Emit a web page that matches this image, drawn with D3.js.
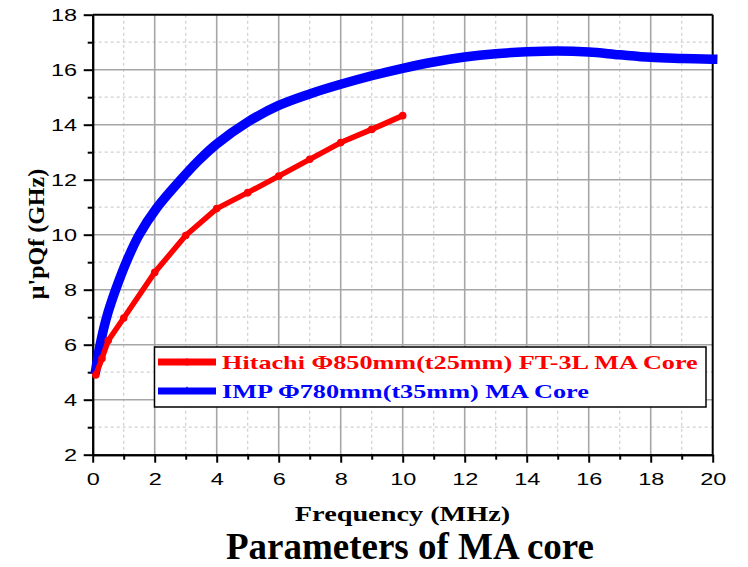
<!DOCTYPE html>
<html>
<head>
<meta charset="utf-8">
<script src="https://cdn.jsdelivr.net/npm/d3@7"></script>
<style>
  html, body { margin: 0; padding: 0; background: #fff; }
  svg { display: block; }
</style>
</head>
<body>
<svg id="chart" width="748" height="567"></svg>
<script>
// Hitachi FT-3L core: frequency (MHz) vs μ'pQf (GHz)
const freqHitachi = [0.1, 0.3, 0.5, 1, 2, 3, 4, 5, 6, 7, 8, 9, 10];
const qfHitachi   = [4.9, 5.5, 6.15, 6.97, 8.63, 9.97, 10.95, 11.53, 12.13, 12.74, 13.35, 13.83, 14.33];

// IMP core: frequency (MHz) vs μ'pQf (GHz)
const freqImp = [0.1, 0.24, 0.45, 0.74, 1.1, 1.5, 2.05, 2.8, 3.4, 4, 5, 6, 7, 8, 9, 10, 11, 12, 13, 14, 15, 16, 17, 18, 19, 20];
const qfImp   = [5.1, 6.0, 7.0, 8.0, 9.05, 10.0, 10.95, 11.95, 12.68, 13.3, 14.1, 14.7, 15.12, 15.47, 15.78, 16.05, 16.28, 16.46, 16.58, 16.65, 16.68, 16.64, 16.54, 16.45, 16.41, 16.38];

const seriesNames = ["Hitachi Φ850mm(t25mm) FT-3L MA Core", "IMP Φ780mm(t35mm) MA Core"];
const seriesColors = ["#ff0000", "#0000ff"];

const xMajorTicks = [0, 2, 4, 6, 8, 10, 12, 14, 16, 18, 20];
const xMinorTicks = [1, 3, 5, 7, 9, 11, 13, 15, 17, 19];
const yMajorTicks = [2, 4, 6, 8, 10, 12, 14, 16, 18];
const yMinorTicks = [3, 5, 7, 9, 11, 13, 15, 17];

const xTitle = "Frequency (MHz)";
const yTitle = "μ'pQf (GHz)";
const caption = "Parameters of MA core";

const SX = 1.38; // horizontal stretch of the chart lettering
const svg = d3.select("#chart");
const plotL = 92.7, plotR = 712.7, plotT = 14.7, plotB = 454.7;

const x = d3.scaleLinear().domain([0, 20]).range([plotL, plotR]);
const y = d3.scaleLinear().domain([2, 18]).range([plotB, plotT]);

// grid
const grid = svg.append("g");
grid.selectAll(".gxm").data(xMinorTicks).join("line")
  .attr("x1", d => x(d)).attr("x2", d => x(d)).attr("y1", plotT).attr("y2", plotB)
  .attr("stroke", "#cfcfcf").attr("stroke-width", 1.2).attr("stroke-dasharray", "3,3");
grid.selectAll(".gym").data(yMinorTicks).join("line")
  .attr("y1", d => y(d)).attr("y2", d => y(d)).attr("x1", plotL).attr("x2", plotR)
  .attr("stroke", "#cfcfcf").attr("stroke-width", 1.2).attr("stroke-dasharray", "3,3");
grid.selectAll(".gxM").data(xMajorTicks.slice(1, -1)).join("line")
  .attr("x1", d => x(d)).attr("x2", d => x(d)).attr("y1", plotT).attr("y2", plotB)
  .attr("stroke", "#a6a6a6").attr("stroke-width", 1.6);
grid.selectAll(".gyM").data(yMajorTicks.slice(1, -1)).join("line")
  .attr("y1", d => y(d)).attr("y2", d => y(d)).attr("x1", plotL).attr("x2", plotR)
  .attr("stroke", "#a6a6a6").attr("stroke-width", 1.6);

// frame top and right
svg.append("line").attr("x1", plotL).attr("x2", plotR).attr("y1", plotT).attr("y2", plotT)
  .attr("stroke", "#000").attr("stroke-width", 2);
svg.append("line").attr("x1", plotR).attr("x2", plotR).attr("y1", plotT).attr("y2", plotB)
  .attr("stroke", "#000").attr("stroke-width", 2);

// axes
function styleAxis(g) {
  g.select(".domain").attr("stroke", "#000").attr("stroke-width", 2);
  g.selectAll(".tick line").attr("stroke", "#000").attr("stroke-width", 2);
}
const xAxisMinor = svg.append("g").attr("transform", `translate(0,${plotB})`)
  .call(d3.axisBottom(x).tickValues(xMinorTicks).tickSize(5).tickSizeOuter(0).tickFormat(""));
styleAxis(xAxisMinor);
const xAxis = svg.append("g").attr("transform", `translate(0,${plotB})`)
  .call(d3.axisBottom(x).tickValues(xMajorTicks).tickSize(8).tickSizeOuter(0).tickFormat(d3.format("d")));
styleAxis(xAxis);
xAxis.selectAll(".tick text")
  .attr("y", 30.3).attr("dy", null)
  .attr("transform", `scale(${SX},1)`)
  .attr("font-family", "'Liberation Sans', Arial, sans-serif")
  .attr("font-size", 17).attr("fill", "#000");

const yAxisMinor = svg.append("g").attr("transform", `translate(${plotL},0)`)
  .call(d3.axisLeft(y).tickValues(yMinorTicks).tickSize(5).tickSizeOuter(0).tickFormat(""));
styleAxis(yAxisMinor);
const yAxis = svg.append("g").attr("transform", `translate(${plotL},0)`)
  .call(d3.axisLeft(y).tickValues(yMajorTicks).tickSize(9).tickSizeOuter(0).tickFormat(d3.format("d")));
styleAxis(yAxis);
yAxis.selectAll(".tick text")
  .attr("x", -(plotL - 77) / SX).attr("dy", null).attr("y", 6)
  .attr("transform", `scale(${SX},1)`)
  .attr("font-family", "'Liberation Sans', Arial, sans-serif")
  .attr("font-size", 17).attr("fill", "#000");

// series
const imp = freqImp.map((f, i) => [f, qfImp[i]]);
const hit = freqHitachi.map((f, i) => [f, qfHitachi[i]]);

svg.append("path").datum(imp)
  .attr("d", d3.line().x(d => x(d[0])).y(d => y(d[1])).curve(d3.curveCatmullRom.alpha(0.5)))
  .attr("fill", "none").attr("stroke", seriesColors[1]).attr("stroke-width", 9.5)
  .attr("stroke-linecap", "square").attr("stroke-linejoin", "round");

svg.append("path").datum(hit)
  .attr("d", d3.line().x(d => x(d[0])).y(d => y(d[1])))
  .attr("fill", "none").attr("stroke", seriesColors[0]).attr("stroke-width", 5.5)
  .attr("stroke-linecap", "round").attr("stroke-linejoin", "round");
svg.append("g").selectAll("circle").data(hit).join("circle")
  .attr("cx", d => x(d[0])).attr("cy", d => y(d[1])).attr("r", 3.8)
  .attr("fill", seriesColors[0]);

// legend
const lg = svg.append("g");
lg.append("rect").attr("x", 154.5).attr("y", 347).attr("width", 551.5).attr("height", 60)
  .attr("fill", "#fff").attr("stroke", "#000").attr("stroke-width", 1.5);
const legendRows = [362, 391];
seriesNames.forEach((name, i) => {
  const ly = legendRows[i];
  lg.append("line").attr("x1", 158).attr("x2", 216).attr("y1", ly).attr("y2", ly)
    .attr("stroke", seriesColors[i]).attr("stroke-width", 7);
  if (i === 0) {
    lg.append("circle").attr("cx", 187).attr("cy", ly).attr("r", 3.5).attr("fill", seriesColors[i]);
  } else {
    lg.append("path").attr("d", d3.symbol(d3.symbolTriangle, 30)())
      .attr("transform", `translate(187,${ly})`).attr("fill", seriesColors[i]);
  }
  lg.append("text")
    .attr("transform", `translate(222,${ly + 6.5}) scale(${SX},1)`)
    .attr("font-family", "'Liberation Serif', 'Times New Roman', serif")
    .attr("font-weight", "bold").attr("font-size", 19)
    .attr("fill", seriesColors[i]).text(name);
});

// titles
svg.append("text")
  .attr("transform", `translate(402.5,520.5) scale(${SX},1)`)
  .attr("text-anchor", "middle")
  .attr("font-family", "'Liberation Serif', 'Times New Roman', serif")
  .attr("font-weight", "bold").attr("font-size", 20.5).text(xTitle);

svg.append("text")
  .attr("transform", "translate(44,234) rotate(-90)")
  .attr("text-anchor", "middle")
  .attr("font-family", "'Liberation Serif', 'Times New Roman', serif")
  .attr("font-weight", "bold").attr("font-size", 24).text(yTitle);

svg.append("text")
  .attr("x", 410).attr("y", 559)
  .attr("text-anchor", "middle")
  .attr("font-family", "'Liberation Serif', 'Times New Roman', serif")
  .attr("font-weight", "bold").attr("font-size", 37).text(caption);
</script>
</body>
</html>
